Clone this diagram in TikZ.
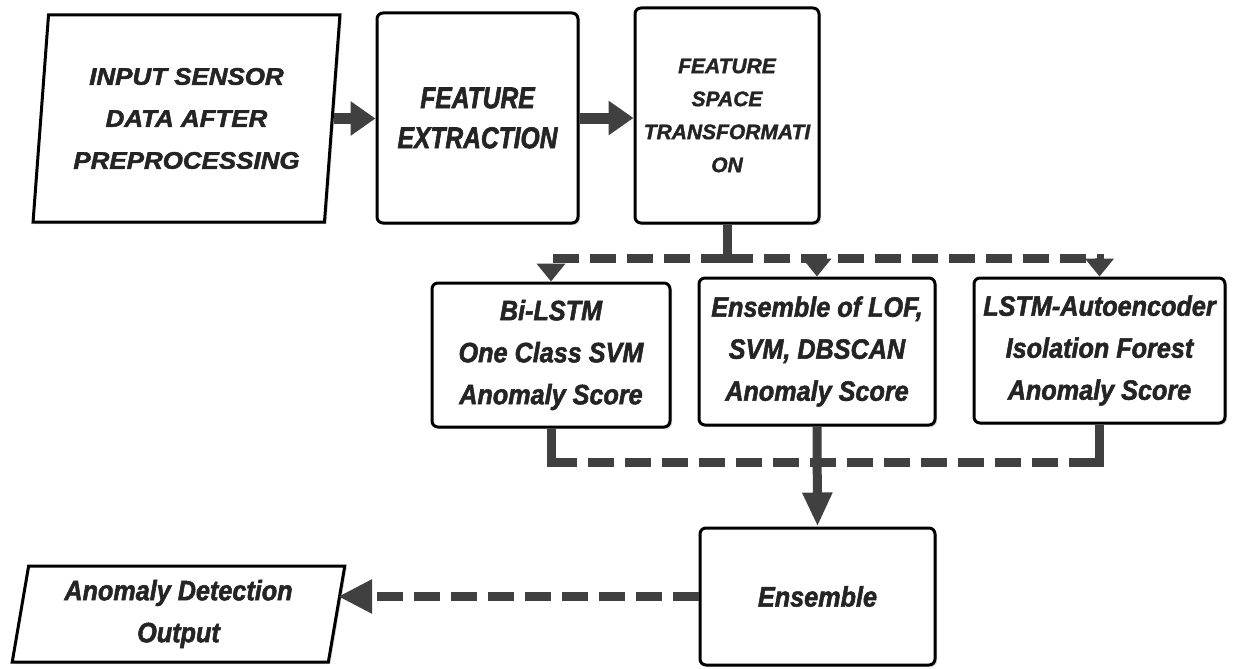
\documentclass[tikz,border=0pt]{standalone}
\usepackage{fontspec}
\usepackage{xcolor}
\usetikzlibrary{arrows.meta,shapes.geometric,shadows}
\newfontfamily\inputfont{Liberation Sans}[FakeStretch=1.08, BoldItalicFeatures={FakeBold=2}]
\newfontfamily\plainfont{Liberation Sans}[BoldItalicFeatures={FakeBold=1.6}]
\newfontfamily\stagefont{Liberation Sans}[FakeStretch=0.82, BoldItalicFeatures={FakeBold=2}]
\newfontfamily\scorefont{Liberation Sans}[FakeStretch=0.9, BoldItalicFeatures={FakeBold=1.8}]
\definecolor{linkgray}{RGB}{64,64,64}
\definecolor{inkgray}{RGB}{36,36,36}

\begin{document}
\begin{tikzpicture}[x=1pt,y=1pt,yscale=-1,
    box/.style={draw=black, line width=3pt, rounded corners=6pt, fill=white, align=center, inner sep=2pt, text=inkgray,
        drop shadow={shadow xshift=2pt, shadow yshift=-2pt, opacity=0.3}},
    iobox/.style={trapezium, trapezium stretches=true, draw=black, line width=3pt, fill=white, align=center, inner sep=2pt, text=inkgray,
        drop shadow={shadow xshift=2pt, shadow yshift=-2pt, opacity=0.3}},
    scoretext/.style={font=\scorefont\bfseries\itshape\fontsize{28}{42}\selectfont},
    link/.style={draw=linkgray, line width=9pt},
    dashlink/.style={link, dash pattern=on 26pt off 11pt},
    arrowlink/.style={link, line width=11pt, -{Triangle[length=25pt,width=33pt]}},
    downarrow/.style={link, -{Triangle[length=34pt,width=28pt]}},
    dasharrow/.style={dashlink, -{Triangle[length=18pt,width=28pt]}},
    backarrow/.style={dashlink, -{Triangle[length=34pt,width=32pt]}}]
    \useasboundingbox (0,0) rectangle (1237,669);

    %Shape: Parallelogram
    \node[iobox, trapezium left angle=83, trapezium right angle=97, minimum width=307pt, minimum height=207pt,
        font=\inputfont\bfseries\itshape\fontsize{24}{42}\selectfont] (input) at (186.5,118.5) {INPUT SENSOR\\DATA AFTER\\PREPROCESSING};
    %Shape: Box
    \node[box, minimum width=201pt, minimum height=210pt, font=\stagefont\bfseries\itshape\fontsize{30}{40}\selectfont] (extract) at (477.5,118) {FEATURE\\EXTRACTION};
    %Shape: Box
    \node[box, minimum width=184pt, minimum height=215pt, font=\plainfont\bfseries\itshape\fontsize{21}{33}\selectfont] (transform) at (727,115.5) {FEATURE\\SPACE\\TRANSFORMATI\\ON};

    %Shape: Box
    \node[box, scoretext, minimum width=238pt, minimum height=144pt] (bilstm) at (551,355) {Bi-LSTM\\One Class SVM\\Anomaly Score};
    %Shape: Box
    \node[box, scoretext, minimum width=236pt, minimum height=147pt] (lof) at (817,351.5) {Ensemble of LOF,\\SVM, DBSCAN\\Anomaly Score};
    %Shape: Box
    \node[box, scoretext, minimum width=251pt, minimum height=145pt] (lstm) at (1099.5,350.5) {LSTM-Autoencoder\\Isolation Forest\\Anomaly Score};

    %Shape: Box
    \node[box, scoretext, minimum width=235pt, minimum height=137pt] (ens) at (817.5,596.5) {Ensemble};
    %Shape: Parallelogram
    \node[iobox, scoretext, trapezium left angle=80, trapezium right angle=100, minimum width=333pt, minimum height=96pt] (output) at (178.5,614) {Anomaly Detection\\Output};

    \coordinate (split) at (727,258);
    \coordinate (merge) at (817,462);

    %Straight Lines
    \draw[arrowlink] (input.east) -- (input.east -| extract.west);
    \draw[arrowlink] (extract.east) -- (extract.east -| transform.west);
    \draw[link, shorten >=-4.5pt] (transform.south) -- (split);
    \draw[dasharrow] (split) -| (bilstm.north);
    \draw[dasharrow] (split) -| (lof.north);
    \draw[dasharrow] (split) -| (lstm.north);

    \draw[link, shorten >=-4.5pt] (bilstm.south) -- (bilstm.south |- merge);
    \draw[link, shorten >=-4.5pt] (lstm.south) -- (lstm.south |- merge);
    \draw[dashlink] (bilstm.south |- merge) -- (lstm.south |- merge);
    \draw[downarrow] (lof.south) -- (ens.north);
    \draw[backarrow] (ens.west) -- (ens.west -| output.east);

\end{tikzpicture}
\end{document}
